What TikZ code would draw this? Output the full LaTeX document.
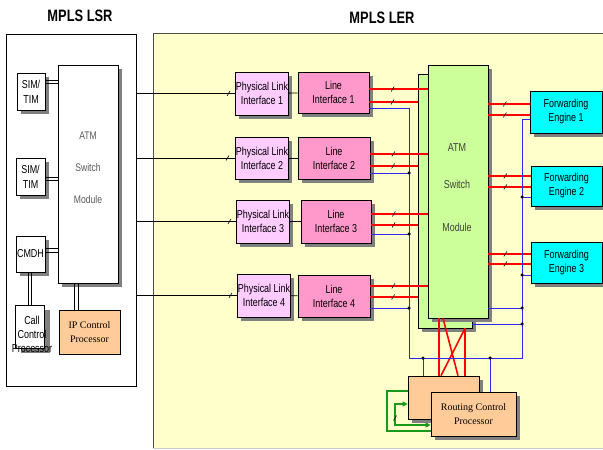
\documentclass[tikz,border=0pt]{standalone}
\usepackage{fontspec}
\setmainfont{Liberation Serif}
\newfontfamily\narrowsf[FakeStretch=0.78]{Liberation Sans}
\usetikzlibrary{shadows,arrows.meta}

\definecolor{lerfill}{HTML}{FFFFCC}
\definecolor{phyfill}{HTML}{FFCCFF}
\definecolor{linefill}{HTML}{FF99CC}
\definecolor{atmfill}{HTML}{CCFF99}
\definecolor{fwdfill}{HTML}{00FFFF}
\definecolor{procfill}{HTML}{FFCC99}
\definecolor{ctlblue}{HTML}{2828F0}
\definecolor{loopgreen}{HTML}{1A9A1A}

\tikzset{
  tick/.pic={\draw[black,line width=0.6pt] (-1.5,2.5) -- (1.5,-2.5);}
}

\begin{document}
\begin{tikzpicture}[
  x=1pt, y=-1pt,
  box/.style={draw,line width=0.7pt,inner sep=0pt,align=center,font=\narrowsf\fontsize{11.5}{14}\selectfont},
  sbox/.style={box,drop shadow={shadow xshift=3.5pt,shadow yshift=-3.5pt,fill=black!50,opacity=1}},
  proc/.style={sbox,fill=procfill,font=\fontsize{10}{14}\selectfont},
  title/.style={font=\narrowsf\bfseries\fontsize{16.5}{18}\selectfont},
  atmtext/.style={align=center,text=black!75,font=\narrowsf\fontsize{11.5}{34}\selectfont},
  link/.style={line width=0.8pt},
  trunk/.style={red,line width=2.2pt},
  cross/.style={red,line width=1.6pt},
  ctl/.style={ctlblue,line width=0.9pt},
  dot/.style={circle,fill=black,inner sep=0pt,minimum size=3.5pt},
  loop/.style={loopgreen,line width=1.1pt}
]
  \useasboundingbox (0,0) rectangle (603,450);

  % router outlines
  \fill[lerfill] (153,33) rectangle (603,448);
  \draw[black!70,line width=0.8pt] (603,33) -- (153,33) -- (153,448);
  \draw[black!20,line width=0.8pt] (153,448) -- (603,448);
  \node[draw,line width=0.7pt,inner sep=0pt,minimum width=130,minimum height=352] (lsr) at (71,210) {};
  \node[title] (lsrtitle) at (80,16) {MPLS LSR};
  \node[title] (lertitle) at (382,18) {MPLS LER};

  % LSR
  \node[sbox,fill=white,minimum width=60,minimum height=218] (lsratm) at (88,174) {};
  \node[atmtext,text=black!65,font=\narrowsf\fontsize{11}{32}\selectfont] (lsratmtext) at (88,168) {ATM\\Switch\\Module};
  \node[sbox,fill=white,minimum width=28,minimum height=37,font=\narrowsf\fontsize{11.5}{15}\selectfont] (sim1) at (31,91.5) {SIM/\\TIM};
  \node[sbox,fill=white,minimum width=29,minimum height=37,font=\narrowsf\fontsize{11.5}{15}\selectfont] (sim2) at (30.5,176.5) {SIM/\\TIM};
  \node[sbox,fill=white,minimum width=29,minimum height=36] (cmdh) at (30.5,254) {CMDH};
  \node[box,fill=white,minimum width=29,minimum height=43,
    drop shadow={shadow xshift=6pt,shadow yshift=-5pt,fill=black!50,opacity=1}] (callcp) at (29.5,326.5) {};
  \node[align=center,font=\narrowsf\fontsize{11.5}{14}\selectfont] (callcptext) at (32,334) {Call\\Control\\Processor};
  \node[box,fill=procfill,font=\fontsize{10}{14}\selectfont,minimum width=61,minimum height=44] (ipcp) at (89.5,332) {IP Control\\Processor};

  \draw (sim1.east |- 0,80) -- (lsratm.west |- 0,80);
  \draw (sim1.east |- 0,83) -- (lsratm.west |- 0,83);
  \draw (sim2.east |- 0,177) -- (lsratm.west |- 0,177);
  \draw (sim2.east |- 0,180) -- (lsratm.west |- 0,180);
  \draw (cmdh.east |- 0,248) -- (lsratm.west |- 0,248);
  \draw (cmdh.east |- 0,252) -- (lsratm.west |- 0,252);
  \draw (cmdh.south -| 28,0) -- (callcp.north -| 28,0);
  \draw (cmdh.south -| 31.5,0) -- (callcp.north -| 31.5,0);
  \draw (lsratm.south -| 74,0) -- (ipcp.north -| 74,0);
  \draw (lsratm.south -| 78,0) -- (ipcp.north -| 78,0);

  % LER interfaces
  \node[sbox,fill=phyfill,minimum width=50,minimum height=43] (phy1) at (262,93.5) {Physical Link\\Interface 1};
  \node[sbox,fill=phyfill,minimum width=48,minimum height=42] (phy2) at (262,158) {Physical Link\\Interface 2};
  \node[sbox,fill=phyfill,minimum width=50,minimum height=43] (phy3) at (263,221.5) {Physical Link\\Interface 3};
  \node[sbox,fill=phyfill,minimum width=48,minimum height=43] (phy4) at (264,295.5) {Physical Link\\Interface 4};
  \node[sbox,fill=linefill,minimum width=71,minimum height=41] (line1) at (333.5,92.5) {Line\\Interface 1};
  \node[sbox,fill=linefill,minimum width=72,minimum height=42] (line2) at (334,158) {Line\\Interface 2};
  \node[sbox,fill=linefill,minimum width=70,minimum height=43] (line3) at (336,221.5) {Line\\Interface 3};
  \node[sbox,fill=linefill,minimum width=72,minimum height=42] (line4) at (334,296) {Line\\Interface 4};

  % LER switch, engines, routing
  \node[sbox,fill=atmfill,minimum width=54,minimum height=254] (atmb) at (445,201) {};
  \node[sbox,fill=atmfill,minimum width=60,minimum height=253] (atmf) at (458,191.5) {};
  \node[atmtext] (atmtext) at (457,188) {ATM\\[3pt]Switch\\[9pt]Module};
  \node[sbox,fill=fwdfill,minimum width=72,minimum height=42] (fwd1) at (566,112) {Forwarding\\Engine 1};
  \node[sbox,fill=fwdfill,minimum width=71,minimum height=40] (fwd2) at (566.5,186) {Forwarding\\Engine 2};
  \node[sbox,fill=fwdfill,minimum width=71,minimum height=41] (fwd3) at (566.5,262.5) {Forwarding\\Engine 3};
  \node[proc,minimum width=71,minimum height=43] (rtrb) at (443.5,397.5) {};
  \node[proc,minimum width=85,minimum height=44] (rtrf) at (473.5,414) {Routing Control\\Processor};

  % LSR to LER links
  \draw[link] (lsr.east |- phy1.west) -- pic[pos=.93]{tick} (phy1.west);
  \draw[link] (lsr.east |- phy2.west) -- pic[pos=.92]{tick} (phy2.west);
  \draw[link] (lsr.east |- phy3.west) -- pic[pos=.93]{tick} (phy3.west);
  \draw[link] (lsr.east |- phy4.west) -- pic[pos=.93]{tick} (phy4.west);
  \draw[link] (phy1) -- (line1);
  \draw[link] (phy2) -- (line2);
  \draw[link] (phy3) -- (line3);
  \draw[link] (phy4) -- (line4);

  % data paths
  \draw[trunk] (line1.east |- 0,89) -- pic[pos=.4]{tick} (atmf.west |- 0,89);
  \draw[trunk] (line1.east |- 0,102) -- pic[pos=.48]{tick} (atmb.west |- 0,102);
  \draw[trunk] (line2.east |- 0,154) -- pic[pos=.4]{tick} (atmf.west |- 0,154);
  \draw[trunk] (line2.east |- 0,166) -- pic[pos=.48]{tick} (atmb.west |- 0,166);
  \draw[trunk] (line3.east |- 0,214) -- pic[pos=.4]{tick} (atmf.west |- 0,214);
  \draw[trunk] (line3.east |- 0,225) -- pic[pos=.48]{tick} (atmb.west |- 0,225);
  \draw[trunk] (line4.east |- 0,286) -- pic[pos=.4]{tick} (atmf.west |- 0,286);
  \draw[trunk] (line4.east |- 0,297) -- pic[pos=.48]{tick} (atmb.west |- 0,297);
  \draw[trunk] (atmf.east |- 0,104) -- pic[pos=.4]{tick} (fwd1.west |- 0,104);
  \draw[trunk] (atmf.east |- 0,115) -- pic[pos=.4]{tick} (fwd1.west |- 0,115);
  \draw[trunk] (atmf.east |- 0,176) -- pic[pos=.4]{tick} (fwd2.west |- 0,176);
  \draw[trunk] (atmf.east |- 0,187) -- pic[pos=.4]{tick} (fwd2.west |- 0,187);
  \draw[trunk] (atmf.east |- 0,254) -- pic[pos=.4]{tick} (fwd3.west |- 0,254);
  \draw[trunk] (atmf.east |- 0,264) -- pic[pos=.4]{tick} (fwd3.west |- 0,264);
  \draw[cross] (atmf.south -| 439,0) -- (rtrb.north -| 439,0);
  \draw[cross] (atmf.south -| 443,0) -- (rtrb.north -| 458,0);
  \draw[cross] (atmb.south -| 465,0) -- (rtrb.north -| 465,0);
  \draw[cross] (atmb.south -| 465,0) -- (rtrb.north -| 441,0);

  % control bus
  \coordinate (busl) at (409,358);
  \coordinate (busr) at (522,358);
  \draw[ctl] (line1.east |- 0,108) -| (busl) -- (busr) |- (fwd1.west |- 0,119);
  \draw[ctl] (line2.east |- 0,173) -- (busl |- 0,173) node[dot] {};
  \draw[ctl] (line3.east |- 0,234) -- (busl |- 0,234) node[dot] {};
  \draw[ctl] (line4.east |- 0,308) -- (busl |- 0,308) node[dot] {};
  \draw[ctl] (fwd2.west |- 0,197) -- (busr |- 0,197) node[dot] {};
  \draw[ctl] (fwd3.west |- 0,275) -- (busr |- 0,275) node[dot] {};
  \draw[ctl] (atmf.east |- 0,308) -- (busr |- 0,308) node[dot] {};
  \draw[ctl] (atmb.east |- 0,324) -- (busr |- 0,324) node[dot] {};
  \draw[ctl] (rtrb.north -| 423,0) -- (busl -| 423,0) node[dot] {};
  \draw[ctl] (rtrf.north -| 490,0) -- (busl -| 490,0) node[dot] {};

  % routing loop
  \draw[loop] (rtrb.west |- 0,391) -- (387,391) -- (387,431) -- (rtrf.west |- 0,431);
  \draw[loop,{Triangle[length=5pt,width=5pt]}-{Triangle[length=5pt,width=5pt]}] (rtrb.west |- 0,404) -| (395,425) -- (rtrf.west |- 0,425);
  \pic at (395,418) {tick};
\end{tikzpicture}
\end{document}
